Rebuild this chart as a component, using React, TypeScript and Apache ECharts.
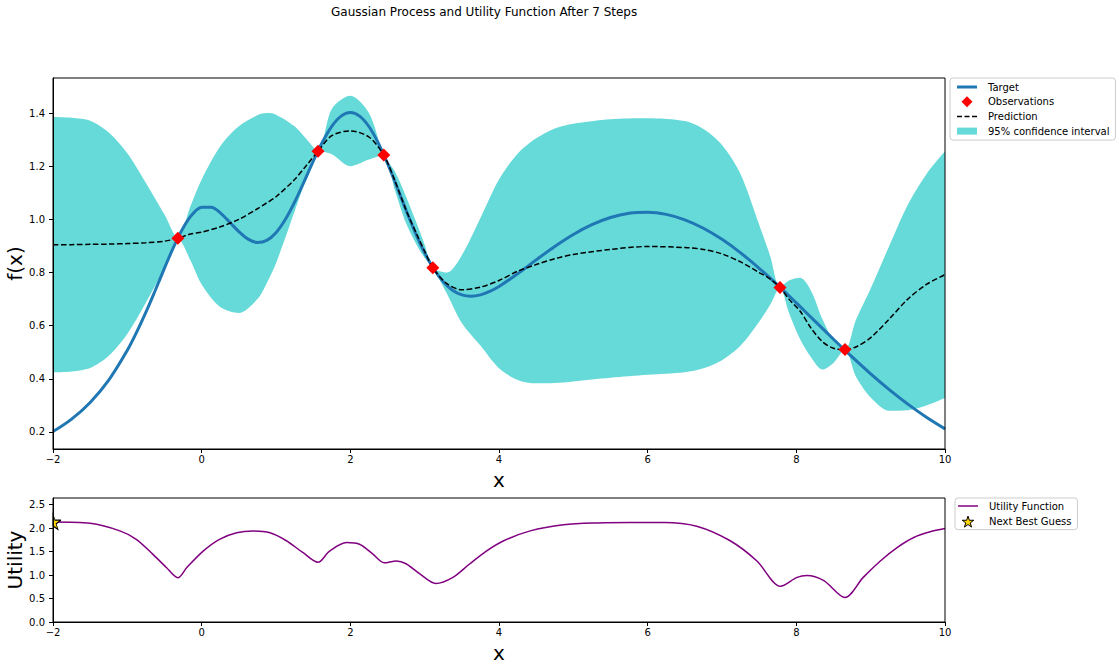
import React, { useEffect, useRef } from "react";
import * as echarts from "echarts";

// ---- data ----
const TITLE = "Gaussian Process and Utility Function After 7 Steps";

const TARGET_X = [-2, -1.75, -1.5, -1.25, -1, -0.875, -0.75, -0.625, -0.5, -0.375, -0.25, -0.125, 0, 0.125, 0.25, 0.375, 0.5, 0.625, 0.75, 0.875, 1, 1.125, 1.25, 1.375, 1.5, 1.625, 1.75, 1.875, 2, 2.125, 2.25, 2.375, 2.5, 2.625, 2.75, 2.875, 3, 3.125, 3.25, 3.375, 3.5, 3.625, 3.75, 3.875, 4, 4.25, 4.5, 4.75, 5, 5.25, 5.5, 5.75, 6, 6.25, 6.5, 6.75, 7, 7.25, 7.5, 7.75, 8, 8.25, 8.5, 8.75, 9, 9.25, 9.5, 9.75, 10];
const TARGET_Y = [0.2017, 0.2486, 0.3113, 0.3954, 0.5076, 0.5755, 0.651, 0.7325, 0.8165, 0.8975, 0.9676, 1.019, 1.0456, 1.046, 1.0247, 0.9903, 0.954, 0.9257, 0.9131, 0.9208, 0.95, 0.9993, 1.0647, 1.1404, 1.2185, 1.291, 1.3499, 1.3884, 1.4019, 1.3886, 1.3495, 1.2881, 1.2105, 1.1235, 1.0344, 0.9495, 0.8745, 0.8125, 0.7656, 0.7337, 0.7162, 0.7109, 0.716, 0.7287, 0.7474, 0.7951, 0.8475, 0.8982, 0.9434, 0.9803, 1.0073, 1.0232, 1.027, 1.0188, 0.9984, 0.9668, 0.9248, 0.874, 0.816, 0.7527, 0.6857, 0.6173, 0.549, 0.4824, 0.4188, 0.3594, 0.3048, 0.2555, 0.2118];

const GP_X = [-2, -1.75, -1.5, -1.25, -1, -0.75, -0.5, -0.32, -0.15, 0, 0.25, 0.5, 0.75, 0.875, 1, 1.25, 1.4, 1.565, 1.75, 2, 2.25, 2.45, 2.6, 2.75, 2.9, 3, 3.11, 3.3, 3.5, 3.75, 4, 4.25, 4.5, 4.75, 5, 5.5, 6, 6.5, 6.75, 7, 7.25, 7.5, 7.65, 7.78, 7.9, 8.05, 8.2, 8.35, 8.5, 8.655, 8.8, 9, 9.25, 9.5, 9.75, 10];
const GP_UPPER = [1.385, 1.382, 1.371, 1.327, 1.249, 1.137, 1.018, 0.929, 1.05, 1.15, 1.275, 1.35, 1.392, 1.4, 1.394, 1.35, 1.305, 1.256, 1.415, 1.465, 1.4, 1.242, 1.18, 1.085, 0.98, 0.905, 0.818, 0.8, 0.865, 1.005, 1.15, 1.247, 1.305, 1.342, 1.36, 1.377, 1.381, 1.37, 1.34, 1.28, 1.17, 0.98, 0.86, 0.744, 0.77, 0.78, 0.73, 0.625, 0.545, 0.51, 0.62, 0.74, 0.9, 1.055, 1.17, 1.256];
const GP_LOWER = [0.425, 0.428, 0.441, 0.487, 0.569, 0.687, 0.818, 0.929, 0.845, 0.755, 0.67, 0.648, 0.7, 0.76, 0.835, 1.03, 1.145, 1.256, 1.245, 1.2, 1.225, 1.242, 1.11, 0.985, 0.9, 0.855, 0.818, 0.72, 0.61, 0.525, 0.44, 0.396, 0.383, 0.384, 0.39, 0.404, 0.415, 0.425, 0.44, 0.47, 0.525, 0.615, 0.68, 0.744, 0.65, 0.55, 0.48, 0.435, 0.46, 0.51, 0.41, 0.33, 0.28, 0.282, 0.3, 0.328];
const GP_MEAN = [0.905, 0.905, 0.906, 0.907, 0.909, 0.912, 0.918, 0.929, 0.945, 0.952, 0.972, 1.0, 1.04, 1.062, 1.085, 1.15, 1.2, 1.256, 1.315, 1.333, 1.31, 1.242, 1.145, 1.035, 0.94, 0.88, 0.818, 0.758, 0.735, 0.745, 0.77, 0.805, 0.83, 0.852, 0.868, 0.887, 0.898, 0.894, 0.887, 0.87, 0.84, 0.8, 0.775, 0.744, 0.7, 0.655, 0.59, 0.54, 0.515, 0.51, 0.52, 0.555, 0.625, 0.7, 0.755, 0.792];

const OBS_X = [-0.32, 1.565, 2.45, 3.11, 7.78, 8.655];
const OBS_Y = [0.929, 1.256, 1.242, 0.818, 0.744, 0.51];

const UTIL_X = [-2, -1.5, -1.1, -0.88, -0.655, -0.475, -0.32, -0.2, 0.02, 0.24, 0.47, 0.69, 0.92, 1.14, 1.36, 1.565, 1.72, 1.95, 2.13, 2.3, 2.455, 2.62, 2.75, 2.93, 3.15, 3.38, 3.6, 3.83, 4.05, 4.42, 4.87, 5.32, 5.77, 6.22, 6.66, 7.11, 7.47, 7.785, 8.01, 8.14, 8.37, 8.655, 8.9, 9.13, 9.36, 9.58, 9.8, 10];
const UTIL_Y = [2.13, 2.1, 1.94, 1.76, 1.44, 1.16, 0.94, 1.16, 1.51, 1.76, 1.9, 1.94, 1.9, 1.73, 1.48, 1.27, 1.51, 1.69, 1.65, 1.45, 1.26, 1.3, 1.24, 1.03, 0.82, 0.95, 1.23, 1.51, 1.72, 1.94, 2.07, 2.11, 2.12, 2.12, 2.04, 1.73, 1.3, 0.76, 0.95, 0.99, 0.88, 0.52, 0.95, 1.3, 1.59, 1.8, 1.92, 1.99];

const BEST_X = [-2];
const BEST_Y = [2.13];

const Y_TICKS_TOP = [0.2, 0.4, 0.6, 0.8, 1.0, 1.2, 1.4];
const Y_TICKS_UTIL = [0, 0.5, 1.0, 1.5, 2.0, 2.5];

// ---- styling helpers ----
const STAR = "path://M12,0 L14.7,8.3 L23.4,8.3 L16.4,13.6 L19.1,21.9 L12,16.8 L4.9,21.9 L7.6,13.6 L0.6,8.3 L9.3,8.3 Z";
const HALF_STAR = "path://M12,0 L14.7,8.3 L23.4,8.3 L16.4,13.6 L19.1,21.9 L12,16.8 Z";
const DIAMOND = "path://M5,0 L10,5 L5,10 L0,5 Z";
const FONT = "DejaVu Sans";
const BAND = "#66d9d9";

const minusFmt = (v: number) => (v < 0 ? "\u2212" + Math.abs(v) : String(v));

export default function App() {
  const ref = useRef<HTMLDivElement>(null);

  useEffect(() => {
    if (!ref.current) return;
    const chart = echarts.init(ref.current, undefined, { renderer: "svg" });

    const axisCommon = {
      axisLine: { show: true, onZero: false, lineStyle: { color: "#000", width: 1 } },
      splitLine: { show: false },
      nameMoveOverlap: false,
      z: 10,
    };
    const nameStyle = { fontSize: 20, color: "#000", fontFamily: FONT };
    const xAxisFor = (gi: number) => ({
      ...axisCommon,
      type: "value",
      gridIndex: gi,
      min: -2,
      max: 10,
      interval: 2,
      name: "x",
      nameLocation: "middle",
      nameGap: 21,
      nameTextStyle: nameStyle,
      axisTick: { show: true, length: 4, lineStyle: { color: "#000" } },
      axisLabel: { fontSize: 10, color: "#000", margin: 5, formatter: minusFmt, fontFamily: FONT },
    });
    const gridCommon = {
      left: 53,
      width: 892,
      show: true,
      borderColor: "#000",
      borderWidth: 1,
      backgroundColor: "transparent",
      containLabel: false,
      outerBoundsMode: "none",
      z: 10,
    };

    const option: any = {
      animation: false,
      backgroundColor: "#fff",
      textStyle: { fontFamily: FONT },
      title: {
        text: TITLE,
        left: 331,
        top: 6,
        padding: 0,
        textStyle: { fontSize: 12, fontWeight: "normal", color: "#000", fontFamily: FONT },
      },
      grid: [
        { ...gridCommon, top: 78, height: 371 },
        { ...gridCommon, top: 498, height: 124 },
      ],
      xAxis: [xAxisFor(0), xAxisFor(1)],
      yAxis: [
        {
          ...axisCommon,
          type: "value",
          gridIndex: 0,
          min: 0.136,
          max: 1.532,
          name: "f(x)",
          nameLocation: "middle",
          nameGap: 28,
          nameTextStyle: nameStyle,
          axisLabel: {
            fontSize: 10,
            color: "#000",
            margin: 8,
            customValues: Y_TICKS_TOP,
            formatter: (v: number) => v.toFixed(1),
            fontFamily: FONT,
          },
          axisTick: { show: true, length: 4, lineStyle: { color: "#000" }, customValues: Y_TICKS_TOP },
        },
        {
          ...axisCommon,
          type: "value",
          gridIndex: 1,
          min: 0,
          max: 2.64,
          name: "Utility",
          nameLocation: "middle",
          nameGap: 28,
          nameTextStyle: nameStyle,
          axisLabel: {
            fontSize: 10,
            color: "#000",
            margin: 8,
            customValues: Y_TICKS_UTIL,
            formatter: (v: number) => v.toFixed(1),
            fontFamily: FONT,
          },
          axisTick: { show: true, length: 4, lineStyle: { color: "#000" }, customValues: Y_TICKS_UTIL },
        },
      ],
      legend: [
        {
          orient: "vertical",
          left: 950,
          top: 78,
          padding: [3, 6, 3, 7],
          itemWidth: 20,
          itemHeight: 11,
          itemGap: 2.7,
          backgroundColor: "#fff",
          borderColor: "#cccccc",
          borderWidth: 1,
          borderRadius: 3,
          selectedMode: false,
          itemStyle: { borderWidth: 0 },
          textStyle: { fontSize: 10, color: "#000", lineHeight: 12, padding: [0, 0, 0, 6], fontFamily: FONT },
          data: [
            { name: "Target", icon: "path://M0,0H20V3H0Z", itemStyle: { color: "#1f77b4" } },
            { name: "Observations", icon: DIAMOND, itemStyle: { color: "#ff0000" } },
            { name: "Prediction", icon: "path://M0,0H5V1.5H0Z M7.5,0H12.5V1.5H7.5Z M15,0H20V1.5H15Z", itemStyle: { color: "#000" } },
            { name: "95% confidence interval", icon: "path://M0,0H20V7H0Z", itemStyle: { color: BAND } },
          ],
        },
        {
          orient: "vertical",
          left: 955,
          top: 498,
          padding: [2, 6, 2, 3],
          itemWidth: 20,
          itemHeight: 11,
          itemGap: 3.6,
          backgroundColor: "#fff",
          borderColor: "#cccccc",
          borderWidth: 1,
          borderRadius: 3,
          selectedMode: false,
          itemStyle: { borderWidth: 0 },
          textStyle: { fontSize: 10, color: "#000", lineHeight: 12, padding: [0, 0, 0, 6], fontFamily: FONT },
          data: [
            { name: "Utility Function", icon: "path://M0,0H20V1.5H0Z", itemStyle: { color: "#800080" } },
            { name: "Next Best Guess", icon: STAR, itemStyle: { color: "#ffd700", borderColor: "#000", borderWidth: 1 } },
          ],
        },
      ],
      series: [
        {
          // upper edge of the band, filled down to the axis bottom
          name: "95% confidence interval",
          type: "line",
          xAxisIndex: 0,
          yAxisIndex: 0,
          data: GP_X.map((x, i) => [x, GP_UPPER[i]]),
          symbol: "none",
          smooth: 0.3,
          color: BAND,
          lineStyle: { width: 0, opacity: 0 },
          areaStyle: { color: BAND, opacity: 1, origin: "start" },
          silent: true,
          z: 1,
        },
        {
          // lower edge of the band: white fill below it clears the band area
          name: "ci-lower",
          type: "line",
          xAxisIndex: 0,
          yAxisIndex: 0,
          data: GP_X.map((x, i) => [x, GP_LOWER[i]]),
          symbol: "none",
          smooth: 0.3,
          color: "#fff",
          lineStyle: { width: 0, opacity: 0 },
          areaStyle: { color: "#fff", opacity: 1, origin: "start" },
          silent: true,
          z: 2,
        },
        {
          name: "Target",
          type: "line",
          xAxisIndex: 0,
          yAxisIndex: 0,
          data: TARGET_X.map((x, i) => [x, TARGET_Y[i]]),
          symbol: "none",
          smooth: 0.35,
          color: "#1f77b4",
          lineStyle: { width: 3, color: "#1f77b4" },
          z: 3,
        },
        {
          name: "Prediction",
          type: "line",
          xAxisIndex: 0,
          yAxisIndex: 0,
          data: GP_X.map((x, i) => [x, GP_MEAN[i]]),
          symbol: "none",
          smooth: 0.3,
          color: "#000",
          lineStyle: { width: 1.5, color: "#000", type: [5.5, 2.5] },
          z: 4,
        },
        {
          name: "Observations",
          type: "scatter",
          xAxisIndex: 0,
          yAxisIndex: 0,
          data: OBS_X.map((x, i) => [x, OBS_Y[i]]),
          symbol: DIAMOND,
          symbolSize: 13,
          color: "#ff0000",
          itemStyle: { color: "#ff0000", opacity: 1 },
          z: 5,
        },
        {
          name: "Utility Function",
          type: "line",
          xAxisIndex: 1,
          yAxisIndex: 1,
          data: UTIL_X.map((x, i) => [x, UTIL_Y[i]]),
          symbol: "none",
          smooth: 0.3,
          color: "#800080",
          lineStyle: { width: 1.5, color: "#800080" },
          z: 3,
        },
        {
          name: "Next Best Guess",
          type: "scatter",
          xAxisIndex: 1,
          yAxisIndex: 1,
          data: BEST_X.map((x, i) => [x, BEST_Y[i]]),
          symbol: HALF_STAR,
          symbolSize: [8, 15],
          symbolOffset: [4, 0],
          symbolKeepAspect: false,
          color: "#ffd700",
          itemStyle: { color: "#ffd700", borderColor: "#000", borderWidth: 1, opacity: 1 },
          clip: false,
          z: 5,
        },
      ],
    };

    chart.setOption(option);
    return () => chart.dispose();
  }, []);

  return (
    <div
      ref={ref}
      style={{ position: "fixed", left: 0, top: 0, width: 1119, height: 669, background: "#fff" }}
    />
  );
}
